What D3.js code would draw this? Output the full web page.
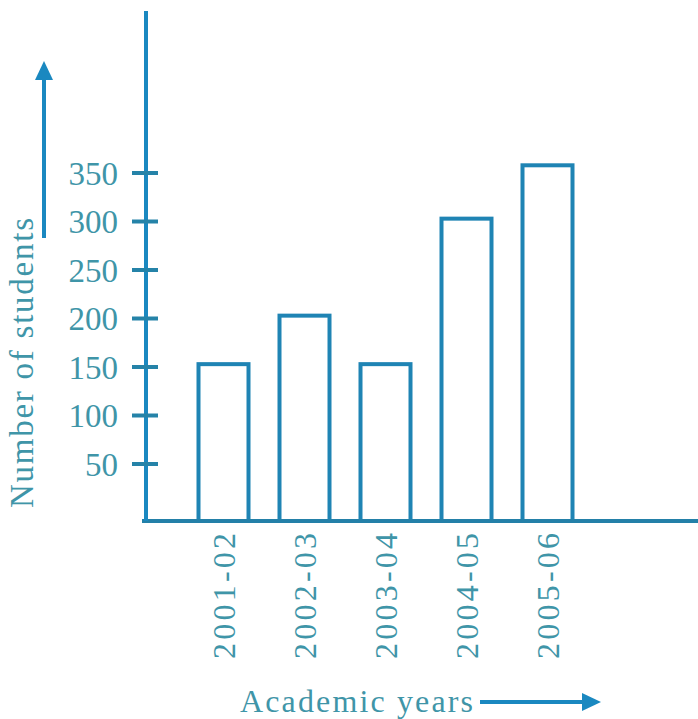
<!DOCTYPE html>
<html>
<head>
<meta charset="utf-8">
<script src="https://cdn.jsdelivr.net/npm/d3@7"></script>
<style>
  html, body { margin: 0; padding: 0; background: #fff; }
  svg { display: block; }
</style>
</head>
<body>
<svg id="chart" width="698" height="719"></svg>
<script>
const categories = ["2001-02", "2002-03", "2003-04", "2004-05", "2005-06"];
const values = [155, 205, 155, 305, 360];
const yTicks = [50, 100, 150, 200, 250, 300, 350];
const yTitle = "Number of students";
const xTitle = "Academic years";

const lineColor = "#1a88c0";
const barColor = "#1f84b4";
const textColor = "#3f95a8";
const font = "'Liberation Serif', 'Times New Roman', serif";

const svg = d3.select("#chart");
const axisX = 146;        // y-axis position
const baseY = 521;        // x-axis position

const y = d3.scaleLinear().domain([0, 350]).range([512.5, 173]);
const x = d3.scaleBand().domain(categories).range([196.5, 574.5])
  .paddingInner(1 / 3).paddingOuter(0);

// bars
svg.append("g").selectAll("rect").data(values).join("rect")
  .attr("x", (d, i) => x(categories[i]) + 2)
  .attr("y", d => y(d) + 2)
  .attr("width", x.bandwidth() - 4)
  .attr("height", d => baseY - y(d) - 2)
  .attr("fill", "none")
  .attr("stroke", barColor)
  .attr("stroke-width", 4);

// x axis line
svg.append("line")
  .attr("x1", axisX - 4).attr("x2", 698)
  .attr("y1", baseY).attr("y2", baseY)
  .attr("stroke", "#2380a8").attr("stroke-width", 4);

// y axis line
svg.append("line")
  .attr("x1", axisX).attr("x2", axisX)
  .attr("y1", 11).attr("y2", baseY)
  .attr("stroke", lineColor).attr("stroke-width", 4);

// y ticks (crossing axis)
const yt = svg.append("g");
yt.selectAll("line").data(yTicks).join("line")
  .attr("x1", axisX - 14).attr("x2", axisX + 12)
  .attr("y1", d => y(d)).attr("y2", d => y(d))
  .attr("stroke", "#2583a8").attr("stroke-width", 4);
yt.selectAll("text").data(yTicks).join("text")
  .attr("x", 118).attr("y", d => y(d))
  .attr("dy", "0.36em")
  .attr("text-anchor", "end")
  .attr("font-family", font).attr("font-size", 33)
  .attr("fill", textColor)
  .text(d => d);

// x tick labels (rotated)
svg.append("g").selectAll("text").data(categories).join("text")
  .attr("transform", d => `translate(${x(d) + x.bandwidth() / 2},533) rotate(-90)`)
  .attr("dy", "0.35em")
  .attr("text-anchor", "end")
  .attr("font-family", font).attr("font-size", 32)
  .attr("textLength", 126).attr("lengthAdjust", "spacing")
  .attr("fill", textColor)
  .text(d => d);

// y title
svg.append("text")
  .attr("transform", "translate(21,508) rotate(-90)")
  .attr("dy", "0.35em")
  .attr("text-anchor", "start")
  .attr("font-family", font).attr("font-size", 33)
  .attr("textLength", 290).attr("lengthAdjust", "spacing")
  .attr("fill", textColor)
  .text(yTitle);

// y arrow
svg.append("line")
  .attr("x1", 44).attr("x2", 44).attr("y1", 238).attr("y2", 76)
  .attr("stroke", lineColor).attr("stroke-width", 4);
svg.append("path")
  .attr("d", "M44,61 L53,80 L35,80 Z")
  .attr("fill", lineColor);

// x title
svg.append("text")
  .attr("x", 240).attr("y", 712)
  .attr("font-family", font).attr("font-size", 32)
  .attr("textLength", 233).attr("lengthAdjust", "spacing")
  .attr("fill", textColor)
  .text(xTitle);

// x arrow
svg.append("line")
  .attr("x1", 480).attr("x2", 586).attr("y1", 702).attr("y2", 702)
  .attr("stroke", lineColor).attr("stroke-width", 4);
svg.append("path")
  .attr("d", "M601,702 L582,693 L582,711 Z")
  .attr("fill", lineColor);
</script>
</body>
</html>
